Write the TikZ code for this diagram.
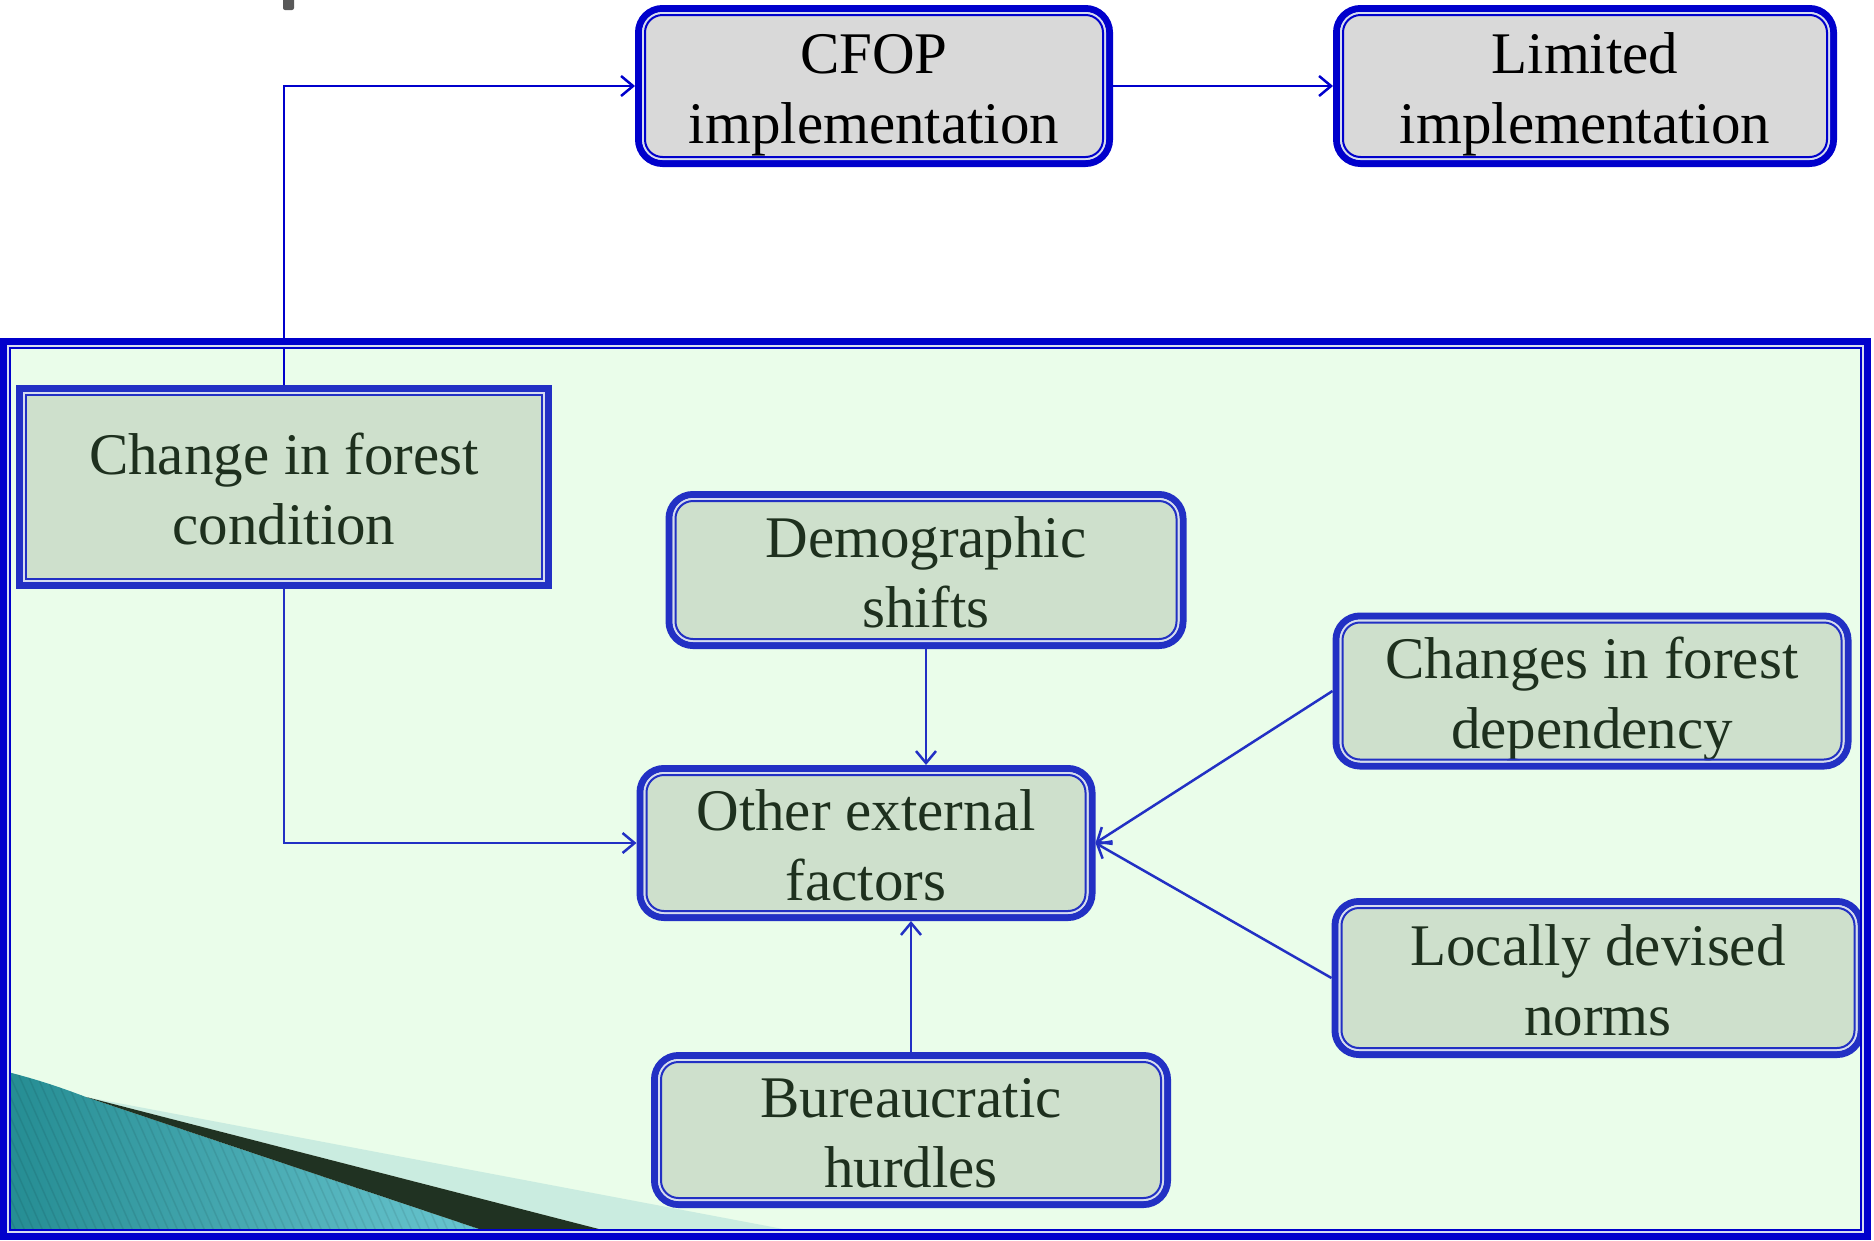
\documentclass[tikz,border=0pt]{standalone}
\usepackage{fontspec}
\setmainfont{Liberation Serif}
\usetikzlibrary{arrows.meta,calc}
\definecolor{topblue}{RGB}{0,0,204}
\definecolor{boxblue}{RGB}{34,48,196}
\definecolor{grayfill}{RGB}{217,217,217}
\definecolor{greenfill}{RGB}{206,224,204}
\definecolor{framefill}{RGB}{234,253,234}
\definecolor{txtgreen}{RGB}{30,48,30}
\definecolor{gapcol}{RGB}{214,220,240}
\definecolor{tealA}{RGB}{36,140,146}
\definecolor{tealB}{RGB}{108,200,210}
\definecolor{darkband}{RGB}{32,50,34}
\definecolor{lightband}{RGB}{202,236,224}
\newcommand{\boxfont}{\fontsize{59}{70}\selectfont}
\newcommand{\twolines}[2]{\raisebox{-#1}[\height][\depth]{\begin{tabular}{@{}c@{}}#2\end{tabular}}}
\tikzset{
  basebox/.style={line width=7pt, outer sep=3.5pt, inner sep=0pt, align=center, font=\boxfont},
  topbox/.style={basebox, draw=topblue, fill=grayfill, rounded corners=24pt, text=black},
  grnbox/.style={basebox, draw=boxblue, fill=greenfill, rounded corners=24pt, text=txtgreen},
  sqbox/.style={basebox, draw=boxblue, fill=greenfill, sharp corners, text=txtgreen},
  conn/.style={draw=boxblue, line width=2.5pt, -{Straight Barb[length=12pt,width=20pt,line width=2.5pt]}},
  topconn/.style={conn, draw=topblue}
}
\begin{document}
\begin{tikzpicture}[x=1pt,y=-1pt]
\useasboundingbox (0,0) rectangle (1874,1240);
% cut-off title fragment
\fill[black!65, rounded corners=2pt] (283,-6) rectangle (294,10);
% frame background
\fill[framefill] (0,338) rectangle (1871,1240);
% corner decoration
\begin{scope}
  \clip (10,348) rectangle (1861,1230);
  \path[left color=tealA, right color=tealB] (0,1070) .. controls (40,1080) and (62,1088) .. (86,1097) -- (500,1236) -- (0,1236) -- cycle;
  \begin{scope}
    \clip (0,1070) .. controls (40,1080) and (62,1088) .. (86,1097) -- (500,1236) -- (0,1236) -- cycle;
    \foreach \i in {0,9,...,520} \draw[black, opacity=0.08, line width=1.5pt] (\i-60,1060) -- (\i+20,1240);
  \end{scope}
  \fill[lightband] (86,1097) -- (820,1236) -- (626,1236) -- cycle;
  \fill[darkband] (86,1097) -- (626,1236) -- (500,1236) -- cycle;
\end{scope}
% nodes
\node[topbox, minimum width=471pt, minimum height=155pt] (cfop) at (874,86) {\twolines{8pt}{CFOP\\implementation}};
\node[topbox, minimum width=497pt, minimum height=155pt] (lim) at (1585,86) {\twolines{8pt}{Limited\\implementation}};
\node[sqbox, minimum width=529pt, minimum height=197pt] (chg) at (284,487) {\twolines{8pt}{Change in forest\\condition}};
\node[grnbox, minimum width=514pt, minimum height=151pt] (demo) at (926,570) {\twolines{8pt}{Demographic\\shifts}};
\node[grnbox, minimum width=452pt, minimum height=149pt] (other) at (866,843) {\twolines{8pt}{Other external\\factors}};
\node[grnbox, minimum width=512pt, minimum height=150pt] (dep) at (1592,691) {\twolines{8pt}{Changes in forest\\dependency}};
\node[grnbox, minimum width=526pt, minimum height=153pt] (loc) at (1598,978) {\twolines{8pt}{Locally devised\\norms}};
\node[grnbox, minimum width=513pt, minimum height=149pt] (bur) at (911,1130) {\twolines{8pt}{Bureaucratic\\hurdles}};
% connectors
\draw[topconn] (chg.north) |- (cfop.west);
\draw[topconn] (cfop.east) -- (lim.west);
\draw[conn] (chg.south) |- (other.west);
\draw[conn] (demo.south) -- (demo.south |- other.north);
\draw[conn] (bur.north) -- (bur.north |- other.south);
\draw[conn] (dep.west) -- (other.east);
\draw[conn] (loc.west) -- (other.east);
% inner double lines
\foreach \n/\c in {cfop/topblue,lim/topblue,demo/boxblue,other/boxblue,dep/boxblue,loc/boxblue,bur/boxblue}{
  \draw[gapcol, line width=2pt, rounded corners=19.5pt] ([shift={(8,8)}]\n.north west) rectangle ([shift={(-8,-8)}]\n.south east);
  \draw[\c, line width=2pt, rounded corners=17.5pt] ([shift={(10,10)}]\n.north west) rectangle ([shift={(-10,-10)}]\n.south east);
}
\draw[gapcol, line width=2pt] ([shift={(8,8)}]chg.north west) rectangle ([shift={(-8,-8)}]chg.south east);
\draw[boxblue, line width=2pt] ([shift={(10,10)}]chg.north west) rectangle ([shift={(-10,-10)}]chg.south east);
% frame border
\draw[topblue, line width=7pt] (3.5,341.5) rectangle (1867.5,1236.5);
\draw[gapcol, line width=2pt] (8,346) rectangle (1863,1232);
\draw[topblue, line width=2pt] (10,348) rectangle (1861,1230);
\end{tikzpicture}
\end{document}
